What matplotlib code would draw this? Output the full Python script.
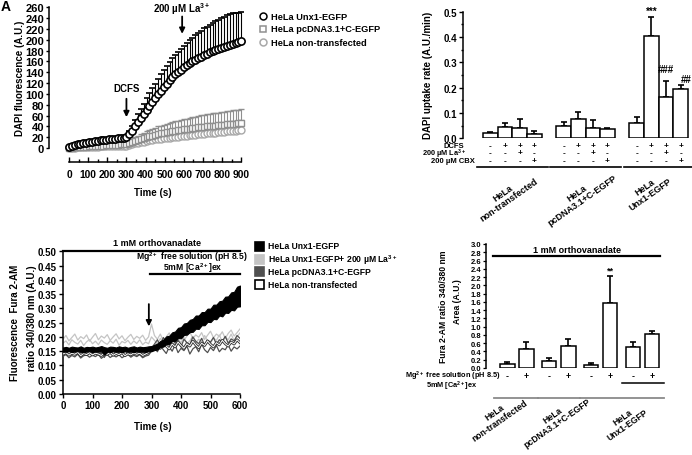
import numpy as np
import matplotlib
matplotlib.use('Agg')
import matplotlib.pyplot as plt
from matplotlib.lines import Line2D
from matplotlib.patches import Rectangle
from matplotlib import transforms
import matplotlib.patheffects as pe

plt.rcParams['font.family'] = ['Liberation Sans', 'DejaVu Sans']
plt.rcParams['font.weight'] = 'bold'
plt.rcParams['mathtext.fontset'] = 'custom'
plt.rcParams['mathtext.rm'] = 'Liberation Sans:bold'
plt.rcParams['mathtext.it'] = 'Liberation Sans:bold'
plt.rcParams['mathtext.bf'] = 'Liberation Sans:bold'
plt.rcParams['mathtext.default'] = 'rm'
plt.rcParams['axes.linewidth'] = 1.1

# ---------------- data: panel A (DAPI uptake time course) ----------------
t_a = np.arange(0, 901, 15)
unx = [2, 4, 5.5, 7, 8, 9, 10, 11, 12, 12.5, 13.5, 14, 15, 15.5, 16, 17, 17.5, 18, 18.5, 19, 20,
       25, 32, 40, 48, 56, 63, 71, 78, 85, 92, 99, 106, 113, 119, 125, 131, 136, 141, 145, 149,
       153, 157, 160, 163, 166, 169, 172, 174, 177, 179, 181, 183, 185, 187, 189, 191, 193, 194, 195, 197]
unx_err = [2, 2, 2, 2, 3, 3, 3, 3, 3, 3, 3, 3, 3, 3, 3, 3, 3, 3, 3, 3, 3,
           6, 9, 12, 14, 16, 18, 21, 23, 25, 27, 29, 30, 32, 33, 34, 35, 36, 37, 38, 39,
           41, 42, 44, 45, 46, 47, 49, 50, 51, 52, 53, 54, 55, 55, 56, 56, 56, 55, 55, 54]
pcdna = [0, 0.5, 1, 1.4, 1.8, 2.2, 2.6, 3, 3.3, 3.6, 4, 4.3, 4.6, 5, 5.3, 5.6, 6, 6.2, 6.5, 6.8, 7,
         9, 11, 13, 15, 17, 18.5, 20, 21.5, 23, 24.5, 26, 27, 28, 29, 30, 31, 32, 33, 34, 35,
         35.5, 36, 37, 37.5, 38, 39, 39.5, 40, 40.5, 41, 41.5, 42, 42.5, 43, 43.5, 44, 44.5, 45, 45.5, 46]
pcdna_err = [1, 1, 1, 1.5, 1.5, 1.5, 2, 2, 2, 2, 2.5, 2.5, 2.5, 3, 3, 3, 3, 3.5, 3.5, 3.5, 4,
             5, 6, 7, 8, 9, 10, 11, 12, 12.5, 13, 14, 14.5, 15, 15.5, 16, 16.5, 17, 17.5, 18, 18.5,
             19, 19.5, 20, 20.5, 21, 21.5, 22, 22, 22.5, 23, 23, 23.5, 24, 24, 24.5, 25, 25, 25, 25.5, 26]
nontr = [0, 0.5, 0.8, 1, 1.3, 1.5, 1.8, 2, 2.2, 2.4, 2.6, 2.8, 3, 3.1, 3.3, 3.4, 3.6, 3.7, 3.8, 3.9, 4,
         5.5, 7, 8.5, 10, 11, 12, 13, 14, 15, 16, 16.5, 17, 18, 18.5, 19, 20, 20.5, 21, 22, 22.5,
         23, 23.5, 24, 24.5, 25, 25.5, 26, 27, 27.5, 28, 28.5, 29, 29.5, 30, 30.5, 31, 31.5, 32, 32.5, 33]
nontr_err = [1, 1, 1, 1, 1, 1.5, 1.5, 1.5, 1.5, 2, 2, 2, 2, 2, 2.5, 2.5, 2.5, 2.5, 3, 3, 3,
             4, 5, 5.5, 6, 6.5, 7, 7.5, 8, 8.5, 9, 9.5, 10, 10, 10.5, 11, 11, 11.5, 12, 12, 12.5,
             13, 13, 13.5, 14, 14, 14.5, 15, 15, 15, 15.5, 16, 16, 16.5, 17, 17, 17, 17.5, 18, 18, 18]

# ---------------- data: panel B (DAPI uptake rate) ----------------
rate_nontr = [0.020, 0.044, 0.040, 0.017]
rate_nontr_err = [0.006, 0.016, 0.037, 0.012]
rate_pcdna = [0.050, 0.075, 0.040, 0.037]
rate_pcdna_err = [0.016, 0.028, 0.033, 0.005]
rate_unx = [0.060, 0.403, 0.165, 0.195]
rate_unx_err = [0.024, 0.075, 0.063, 0.015]
sign_dcfs = ['-', '+', '+', '+']
sign_la = ['-', '-', '+', '-']
sign_cbx = ['-', '-', '-', '+']
group_names = ['HeLa\nnon-transfected', 'HeLa\npcDNA3.1+C-EGFP', 'HeLa\nUnx1-EGFP']

# ---------------- data: panel C (Fura-2 traces) ----------------
t_c = np.arange(0, 601, 10)
bk_lo = [0.149, 0.148, 0.150, 0.147, 0.149, 0.150, 0.148, 0.146, 0.149, 0.150,
         0.147, 0.149, 0.148, 0.150, 0.138, 0.149, 0.147, 0.150, 0.148, 0.149,
         0.146, 0.150, 0.148, 0.149, 0.147, 0.150, 0.148, 0.149, 0.147, 0.150,
         0.150, 0.154, 0.156, 0.165, 0.166, 0.175, 0.176, 0.186, 0.186, 0.196,
         0.195, 0.207, 0.208, 0.217, 0.218, 0.229, 0.228, 0.241, 0.241, 0.253,
         0.252, 0.263, 0.262, 0.275, 0.272, 0.285, 0.284, 0.295, 0.293, 0.306, 0.307]
bk_hi = [0.163, 0.165, 0.162, 0.166, 0.164, 0.163, 0.167, 0.162, 0.165, 0.164,
         0.166, 0.163, 0.165, 0.168, 0.164, 0.162, 0.166, 0.165, 0.163, 0.167,
         0.164, 0.166, 0.162, 0.165, 0.167, 0.163, 0.166, 0.164, 0.165, 0.167,
         0.168, 0.172, 0.176, 0.186, 0.190, 0.202, 0.204, 0.216, 0.219, 0.232,
         0.234, 0.247, 0.249, 0.260, 0.263, 0.275, 0.275, 0.287, 0.287, 0.299,
         0.299, 0.313, 0.313, 0.325, 0.327, 0.341, 0.342, 0.356, 0.358, 0.376, 0.380]
lg1 = [0.192, 0.205, 0.186, 0.198, 0.210, 0.189, 0.201, 0.194, 0.207, 0.185,
       0.199, 0.212, 0.190, 0.203, 0.196, 0.208, 0.188, 0.200, 0.211, 0.193,
       0.204, 0.187, 0.199, 0.209, 0.191, 0.202, 0.195, 0.206, 0.188, 0.200,
       0.245, 0.205, 0.192, 0.210, 0.186, 0.200, 0.214, 0.190, 0.205, 0.196,
       0.212, 0.188, 0.203, 0.218, 0.194, 0.207, 0.199, 0.215, 0.191, 0.206,
       0.220, 0.197, 0.210, 0.202, 0.218, 0.195, 0.212, 0.224, 0.203, 0.215, 0.228]
lg2 = [0.178, 0.186, 0.172, 0.190, 0.181, 0.175, 0.188, 0.170, 0.183, 0.191,
       0.176, 0.185, 0.173, 0.189, 0.180, 0.174, 0.187, 0.178, 0.192, 0.171,
       0.184, 0.179, 0.188, 0.174, 0.186, 0.177, 0.190, 0.173, 0.182, 0.176,
       0.200, 0.188, 0.176, 0.195, 0.181, 0.172, 0.190, 0.184, 0.170, 0.193,
       0.180, 0.198, 0.175, 0.187, 0.202, 0.179, 0.192, 0.183, 0.205, 0.186,
       0.178, 0.196, 0.188, 0.207, 0.182, 0.199, 0.190, 0.210, 0.186, 0.201, 0.214]
dg1 = [0.148, 0.141, 0.152, 0.144, 0.150, 0.138, 0.147, 0.153, 0.140, 0.149,
       0.145, 0.151, 0.137, 0.146, 0.128, 0.148, 0.142, 0.151, 0.139, 0.147,
       0.144, 0.152, 0.140, 0.148, 0.143, 0.150, 0.138, 0.146, 0.141, 0.149,
       0.160, 0.175, 0.190, 0.168, 0.198, 0.182, 0.170, 0.195, 0.178, 0.188,
       0.165, 0.192, 0.180, 0.172, 0.200, 0.185, 0.176, 0.195, 0.170, 0.188,
       0.182, 0.198, 0.175, 0.190, 0.184, 0.202, 0.178, 0.193, 0.186, 0.205, 0.195]
dg2 = [0.132, 0.138, 0.127, 0.135, 0.130, 0.140, 0.126, 0.134, 0.137, 0.129,
       0.136, 0.131, 0.139, 0.125, 0.133, 0.138, 0.128, 0.135, 0.130, 0.137,
       0.127, 0.134, 0.139, 0.129, 0.136, 0.131, 0.138, 0.127, 0.133, 0.136,
       0.150, 0.162, 0.148, 0.170, 0.155, 0.142, 0.165, 0.150, 0.172, 0.145,
       0.160, 0.152, 0.168, 0.140, 0.158, 0.166, 0.148, 0.175, 0.155, 0.145,
       0.163, 0.152, 0.170, 0.148, 0.160, 0.155, 0.172, 0.150, 0.165, 0.158, 0.168]
nt1 = [0.140, 0.145, 0.136, 0.143, 0.139, 0.146, 0.134, 0.142, 0.138, 0.145,
       0.137, 0.143, 0.140, 0.135, 0.144, 0.139, 0.146, 0.136, 0.142, 0.138,
       0.145, 0.134, 0.141, 0.137, 0.144, 0.139, 0.143, 0.135, 0.140, 0.146,
       0.155, 0.165, 0.172, 0.160, 0.178, 0.168, 0.158, 0.175, 0.165, 0.182,
       0.170, 0.160, 0.176, 0.168, 0.185, 0.172, 0.162, 0.178, 0.170, 0.186,
       0.174, 0.165, 0.180, 0.172, 0.188, 0.176, 0.168, 0.182, 0.175, 0.190, 0.180]

# ---------------- data: panel D (Fura-2 area) ----------------
area_vals = [0.09, 0.47, 0.18, 0.54, 0.07, 1.58, 0.50, 0.83]
area_err = [0.05, 0.15, 0.07, 0.17, 0.04, 0.64, 0.12, 0.07]
mg_signs = ['-', '+', '-', '+', '-', '+', '-', '+']

W, H = 692, 456
fig = plt.figure(figsize=(W / 100, H / 100), dpi=100)


def box(x0, y0, x1, y1):
    return [x0 / W, 1 - y1 / H, (x1 - x0) / W, (y1 - y0) / H]


def fx(x):
    return x / W


def fy(y):
    return 1 - y / H


def pt(px):
    return px * 0.72


fig.text(0.001, 0.999, 'A', fontsize=10, va='top', ha='left')

# ================= Panel A =================
axA = fig.add_axes(box(69, 8.3, 241.3, 149))
axA.set_xlim(0, 900)
axA.set_ylim(0, 260)
for s in ['top', 'right']:
    axA.spines[s].set_visible(False)
axA.spines['left'].set_position(('outward', pt(20)))
axA.spines['bottom'].set_position(('outward', pt(14)))
axA.spines['left'].set_bounds(0, 260)
axA.spines['bottom'].set_bounds(0, 900)
axA.set_yticks(np.arange(0, 261, 20))
axA.set_xticks(np.arange(0, 901, 100))
axA.set_xticks(np.arange(50, 900, 100), minor=True)
axA.tick_params(axis='y', direction='out', length=2.5, width=1, labelsize=8, pad=1)
axA.tick_params(axis='x', which='major', direction='in', length=3.5, width=1, labelsize=7.4, pad=5)
axA.tick_params(axis='x', which='minor', direction='in', length=2.2, width=1)

zeros = np.zeros(len(t_a))
axA.errorbar(t_a, nontr, yerr=[zeros, nontr_err], fmt='o', ms=5, mfc='white', mec='#a8a8a8',
             mew=1.0, ecolor='#a8a8a8', elinewidth=0.8, capsize=2, capthick=0.8, clip_on=False, zorder=2)
axA.errorbar(t_a, pcdna, yerr=[zeros, pcdna_err], fmt='s', ms=4.8, mfc='white', mec='#8f8f8f',
             mew=1.0, ecolor='#8f8f8f', elinewidth=0.8, capsize=2, capthick=0.8, clip_on=False, zorder=3)
axA.errorbar(t_a, unx, yerr=[zeros, unx_err], fmt='o', ms=5.2, mfc='white', mec='black',
             mew=1.2, ecolor='black', elinewidth=0.8, capsize=2, capthick=0.8, clip_on=False, zorder=4)

arr = dict(arrowstyle='-|>', lw=1.3, color='black', mutation_scale=8, shrinkA=0, shrinkB=0)
axA.annotate('', xy=(300, 57), xytext=(300, 91), arrowprops=arr, annotation_clip=False)
axA.text(300, 111, 'DCFS', ha='center', va='center', fontsize=7)
axA.annotate('', xy=(591, 211), xytext=(591, 243), arrowprops=arr, annotation_clip=False)
axA.text(591, 259, '200 µM La$^{3+}$', ha='center', va='center', fontsize=7)

fig.text(fx(20), fy(78), 'DAPI fluorescence (A.U.)', rotation=90, ha='center', va='center', fontsize=7)
fig.text(fx(153), fy(193), 'Time (s)', ha='center', va='center', fontsize=7)

legA = [('o', 'black', 'HeLa Unx1-EGFP', 17),
        ('s', '#8f8f8f', 'HeLa pcDNA3.1+C-EGFP', 30),
        ('o', '#a8a8a8', 'HeLa non-transfected', 43)]
for m, c, lab, yy in legA:
    fig.add_artist(Line2D([fx(263)], [fy(yy)], marker=m, ms=5, mfc='white', mec=c, mew=1.1,
                          transform=fig.transFigure))
    fig.text(fx(271), fy(yy), lab, ha='left', va='center', fontsize=6.7)

# ================= Panel B =================
axB = fig.add_axes(box(463, 12.7, 692, 139.3))
axB.set_xlim(-1.88, 13.78)
axB.set_ylim(0, 0.5)
for s in ['top', 'right', 'bottom']:
    axB.spines[s].set_visible(False)
axB.set_xticks([])
axB.set_yticks(np.arange(0, 0.51, 0.1))
axB.set_yticks(np.arange(0.05, 0.5, 0.1), minor=True)
axB.yaxis.set_major_formatter(matplotlib.ticker.FormatStrFormatter('%.1f'))
axB.tick_params(axis='y', which='major', direction='out', length=3, width=1, labelsize=7, pad=1)
axB.tick_params(axis='y', which='minor', direction='out', length=1.8, width=1)

rate_groups = [(rate_nontr, rate_nontr_err), (rate_pcdna, rate_pcdna_err), (rate_unx, rate_unx_err)]
label_centers_B = [(506, 197), (580, 197), (648, 191)]
rows_y = [146.5, 154, 161.5]
trB = transforms.blended_transform_factory(axB.transData, fig.transFigure)
for g, (vals, errs) in enumerate(rate_groups):
    pos = np.arange(len(vals)) + g * 5
    axB.bar(pos, vals, width=1, facecolor='white', edgecolor='black', lw=1.1, zorder=3)
    axB.errorbar(pos, vals, yerr=[np.zeros(len(vals)), errs], fmt='none', ecolor='black',
                 elinewidth=1.2, capsize=2.5, capthick=1.2, zorder=2, clip_on=False)
    for j, p in enumerate(pos):
        for signs, yy in zip([sign_dcfs, sign_la, sign_cbx], rows_y):
            axB.text(p, fy(yy), signs[j], transform=trB, ha='center', va='center', fontsize=6)
    axB.add_line(Line2D([pos[0] - 0.9, pos[-1] + 0.9], [fy(168), fy(168)], color='black', lw=1.2,
                        transform=trB, clip_on=False))
    cx, cy = label_centers_B[g]
    fig.text(fx(cx), fy(cy), group_names[g], rotation=35, ha='center', va='center',
             fontsize=6.5, multialignment='center', linespacing=1.0)

axB.text(11, 0.505, '***', ha='center', va='center', fontsize=7)
axB.text(12, 0.272, '###', ha='center', va='center', fontsize=7)
axB.text(13.4, 0.234, '##', ha='center', va='center', fontsize=7, clip_on=False)

fig.text(fx(464), fy(rows_y[0]), 'DCFS', ha='right', va='center', fontsize=5.5)
fig.text(fx(466), fy(rows_y[1]), '200 µM La$^{3+}$', ha='right', va='center', fontsize=5.3)
fig.text(fx(475), fy(rows_y[2]), '200 µM CBX', ha='right', va='center', fontsize=5.5)
fig.text(fx(428), fy(75), 'DAPI uptake rate (A.U./min)', rotation=90, ha='center', va='center', fontsize=7)

# ================= Panel C =================
axC = fig.add_axes(box(63, 252.3, 240, 395))
axC.set_xlim(0, 600)
axC.set_ylim(0, 0.5)
for s in ['top', 'right']:
    axC.spines[s].set_visible(False)
axC.set_xticks(np.arange(0, 601, 100))
axC.set_yticks(np.arange(0, 0.501, 0.05))
axC.yaxis.set_major_formatter(matplotlib.ticker.FormatStrFormatter('%.2f'))
axC.tick_params(axis='both', direction='out', length=3, width=1, labelsize=7, pad=1.5)

axC.plot(t_c, lg1, color='#c4c4c4', lw=0.9, zorder=2)
axC.plot(t_c, lg2, color='#c4c4c4', lw=0.9, zorder=2)
axC.plot(t_c, dg1, color='#505050', lw=0.9, zorder=3)
axC.plot(t_c, dg2, color='#505050', lw=0.9, zorder=3)
axC.plot(t_c, nt1, color='white', lw=0.7, zorder=4,
         path_effects=[pe.withStroke(linewidth=2.0, foreground='#303030')])
axC.fill_between(t_c, bk_lo, bk_hi, color='black', lw=0.8, zorder=5)

axC.plot([0, 600], [0.5, 0.5], color='black', lw=1.6, clip_on=False, zorder=6)
axC.plot([295, 600], [0.42, 0.42], color='black', lw=1.6, clip_on=False, zorder=6)
axC.annotate('', xy=(291, 0.237), xytext=(291, 0.315), arrowprops=arr, zorder=7)
fig.text(fx(157), fy(243), '1 mM orthovanadate', ha='center', va='center', fontsize=6.5)
fig.text(fx(192), fy(257.5), 'Mg$^{2+}$ free solution (pH 8.5)', ha='center', va='center', fontsize=6.2)
fig.text(fx(193), fy(268.5), '5mM [Ca$^{2+}$]ex', ha='center', va='center', fontsize=6.2)
fig.text(fx(15), fy(323), 'Fluorescence  Fura 2-AM', rotation=90, ha='center', va='center', fontsize=7)
fig.text(fx(32), fy(318), 'ratio 340/380 nm (A.U.)', rotation=90, ha='center', va='center', fontsize=7)
fig.text(fx(153), fy(427), 'Time (s)', ha='center', va='center', fontsize=7)

legC = [('black', 'black', 'HeLa Unx1-EGFP', 247),
        ('#c4c4c4', '#c4c4c4', 'HeLa Unx1-EGFP+ 200 µM La$^{3+}$', 260),
        ('#505050', '#505050', 'HeLa pcDNA3.1+C-EGFP', 272.5),
        ('white', 'black', 'HeLa non-transfected', 285)]
for fc, ec, lab, yy in legC:
    fig.add_artist(Rectangle((fx(255), fy(yy + 4.5)), 9 / W, 9 / H, facecolor=fc, edgecolor=ec,
                             lw=1.2, transform=fig.transFigure))
    fig.text(fx(268), fy(yy), lab, ha='left', va='center', fontsize=6.2)

# ================= Panel D =================
axD = fig.add_axes(box(486, 245, 665, 369))
axD.set_xlim(-1.13, 8.29)
axD.set_ylim(0, 3.0)
for s in ['top', 'right', 'bottom']:
    axD.spines[s].set_visible(False)
axD.set_xticks([])
axD.set_yticks(np.arange(0, 3.01, 0.2))
axD.yaxis.set_major_formatter(matplotlib.ticker.FormatStrFormatter('%.1f'))
axD.tick_params(axis='y', direction='out', length=2.5, width=0.9, labelsize=5.5, pad=1)

posD = np.array([g * 2.21 + j for g in range(4) for j in range(2)])
axD.bar(posD, area_vals, width=0.74, facecolor='white', edgecolor='black', lw=1.1, zorder=3)
axD.errorbar(posD, area_vals, yerr=[np.zeros(len(area_vals)), area_err], fmt='none', ecolor='black',
             elinewidth=1.2, capsize=2.5, capthick=1.2, zorder=2)
axD.plot([-0.76, 8.03], [2.7, 2.7], color='black', lw=1.6, clip_on=False)
axD.text(posD[5], 2.37, '**', ha='center', va='center', fontsize=6.5)
fig.text(fx(577), fy(251), '1 mM orthovanadate', ha='center', va='center', fontsize=6.5)

trD = transforms.blended_transform_factory(axD.transData, fig.transFigure)
for p, s in zip(posD, mg_signs):
    axD.text(p, fy(376.5), s, transform=trD, ha='center', va='center', fontsize=6.3)
axD.add_line(Line2D([posD[6] - 0.6, posD[7] + 0.6], [fy(383.5), fy(383.5)], color='black', lw=1.1,
                    transform=trD, clip_on=False))
spansD = [(posD[0] - 0.7, posD[1] + 0.6), (posD[2] - 0.6, posD[3] + 0.6), (posD[4] - 0.6, posD[7] + 0.6)]
for a, b in spansD:
    axD.add_line(Line2D([a, b], [fy(399), fy(399)], color='#8a8a8a', lw=1.3, transform=trD, clip_on=False))
for lab, (cx, cy) in zip(group_names, [(497, 417), (555, 420), (625, 422)]):
    fig.text(fx(cx), fy(cy), lab, rotation=35, ha='center', va='center', fontsize=6.2,
             multialignment='center', linespacing=1.0)

fig.text(fx(501), fy(376.5), 'Mg$^{2+}$ free solution (pH 8.5)', ha='right', va='center', fontsize=5.3)
fig.text(fx(452), fy(386.5), '5mM [Ca$^{2+}$]ex', ha='center', va='center', fontsize=5.3)
fig.text(fx(443), fy(307), 'Fura 2-AM ratio 340/380 nm', rotation=90, ha='center', va='center', fontsize=6.2)
fig.text(fx(457), fy(302), 'Area (A.U.)', rotation=90, ha='center', va='center', fontsize=6.2)

fig.savefig('out.png', dpi=100)
